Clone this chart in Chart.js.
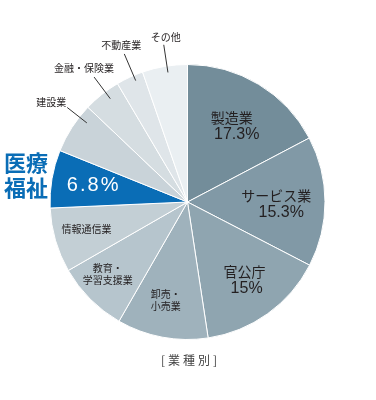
<!DOCTYPE html>
<html><head><meta charset="utf-8">
<script src="https://cdn.jsdelivr.net/npm/chart.js@4.4.1/dist/chart.umd.min.js"></script>
<style>html,body{margin:0;padding:0;background:#fff;}canvas{display:block;}</style>
</head><body>
<canvas id="c" width="376" height="400"></canvas>
<script>
// ---- data ----
const categories = ['製造業','サービス業','官公庁','卸売・小売業','教育・学習支援業','情報通信業','医療福祉','建設業','金融・保険業','不動産業','その他'];
const shares = [17.3, 15.3, 15.0, 10.7, 8.4, 7.6, 6.8, 6.0, 4.4, 3.2, 5.3];
const shareLabels = ['17.3%','15.3%','15%','','','','6.8%','','','',''];
const nameLines = [['製造業'],['サービス業'],['官公庁'],['卸売・','小売業'],['教育・','学習支援業'],['情報通信業'],['医療','福祉'],['建設業'],['金融・保険業'],['不動産業'],['その他']];
const caption = '[業種別]';

// ---- style ----
const colors = ['#738d9a','#8199a6','#8fa5b0','#9fb2bc','#b6c5cd','#c3cfd5','#0a6db6','#c9d3d9','#d5dde1','#dfe5e9','#eaeff2'];
// inside-label placement: radius fraction, angle fraction within slice
const insideR = [0.65,0.66,0.71,0.73,0.78,0.76,0.70,null,null,null,null];
const insideA = [0.5,0.52,0.47,0.55,0.6,0.55,0.5,null,null,null,null];
// leader lines for outside labels: angle fraction, inner radius, outer radius, text offset
const leader = [null,null,null,null,null,null,null,
  {a:0.75, r1:128, r2:153, tx:-1, ty:-5, align:'right'},
  {a:0.61, r1:129, r2:156, tx:-10, ty:-9, align:'center'},
  {a:0.65, r1:132, r2:161, tx:-3, ty:-9, align:'center'},
  {a:0.55, r1:131, r2:159, tx:2, ty:-8, align:'center'}];

const JP = '"Noto Sans CJK JP", "Noto Sans", sans-serif';

const labelPlugin = {
  id: 'labels',
  afterDraw(chart) {
    const ctx = chart.ctx;
    const arcs = chart.getDatasetMeta(0).data;
    ctx.save();
    arcs.forEach((arc, i) => {
      const {x, y, startAngle, endAngle, outerRadius} = arc.getProps(['x','y','startAngle','endAngle','outerRadius'], true);
      if (insideR[i] !== null) {
        const ang = startAngle + (endAngle - startAngle) * insideA[i];
        const px = x + Math.cos(ang) * outerRadius * insideR[i];
        const py = y + Math.sin(ang) * outerRadius * insideR[i];
        ctx.textAlign = 'center';
        ctx.textBaseline = 'middle';
        if (i === 6) {
          // highlighted slice
          ctx.fillStyle = '#ffffff';
          ctx.font = '20px "Liberation Sans", Arial, sans-serif';
          ctx.letterSpacing = '2px';
          ctx.fillText(shareLabels[i], px + 1, py);
          ctx.letterSpacing = '0px';
          ctx.fillStyle = '#0a6db6';
          ctx.font = 'bold 22px ' + JP;
          ctx.textAlign = 'right';
          ctx.fillText(nameLines[i][0], x - outerRadius - 2, y - 39);
          ctx.fillText(nameLines[i][1], x - outerRadius - 2, y - 14);
        } else if (shareLabels[i]) {
          ctx.fillStyle = '#231f20';
          ctx.font = '14px ' + JP;
          ctx.fillText(nameLines[i][0], px - 2, py - 8);
          ctx.font = '16px "Liberation Sans", Arial, sans-serif';
          const off = (i === 2) ? 0 : 3;
          ctx.fillText(shareLabels[i], px + off, py + 9);
        } else {
          ctx.fillStyle = '#231f20';
          ctx.font = '10px ' + JP;
          const n = nameLines[i].length;
          nameLines[i].forEach((t, k) => {
            ctx.fillText(t, px, py + (k - (n - 1) / 2) * 12);
          });
        }
      } else if (leader[i]) {
        const L = leader[i];
        const ang = startAngle + (endAngle - startAngle) * L.a;
        const x1 = x + Math.cos(ang) * L.r1, y1 = y + Math.sin(ang) * L.r1;
        const x2 = x + Math.cos(ang) * L.r2, y2 = y + Math.sin(ang) * L.r2;
        ctx.strokeStyle = '#333';
        ctx.lineWidth = 1;
        ctx.beginPath(); ctx.moveTo(x1, y1); ctx.lineTo(x2, y2); ctx.stroke();
        ctx.fillStyle = '#231f20';
        ctx.font = '10px ' + JP;
        ctx.textAlign = L.align;
        ctx.textBaseline = 'middle';
        ctx.fillText(nameLines[i][0], x2 + L.tx, y2 + L.ty);
      }
    });
    // caption
    const a0 = arcs[0];
    ctx.fillStyle = '#444';
    ctx.font = '12px ' + JP;
    ctx.textAlign = 'center';
    ctx.textBaseline = 'middle';
    ctx.letterSpacing = '3px';
    ctx.fillText(caption, a0.x + 3, a0.y + a0.outerRadius + 21);
    ctx.restore();
  }
};

new Chart(document.getElementById('c'), {
  type: 'pie',
  data: {
    labels: categories,
    datasets: [{
      data: shares,
      backgroundColor: colors,
      borderColor: '#ffffff',
      borderWidth: 1
    }]
  },
  options: {
    responsive: false,
    animation: false,
    layout: {padding: {left: 49, right: 50, top: 64, bottom: 60}},
    plugins: {legend: {display: false}, tooltip: {enabled: false}}
  },
  plugins: [labelPlugin]
});
</script>
</body></html>
